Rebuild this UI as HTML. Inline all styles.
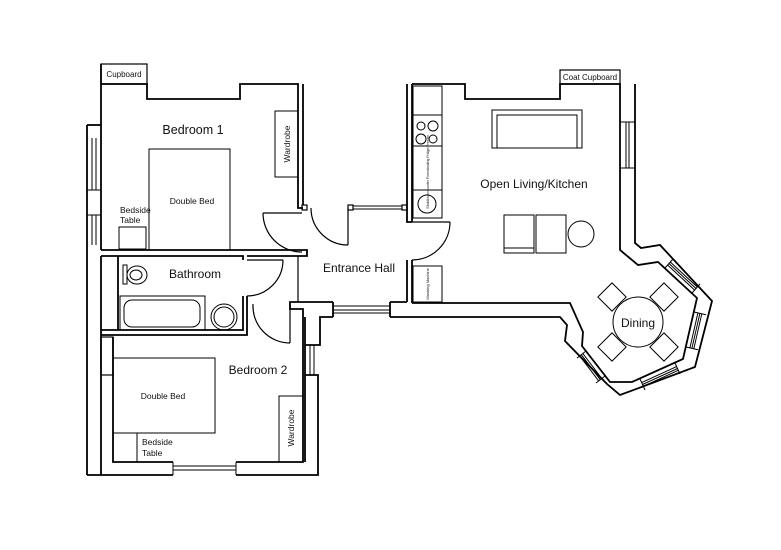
<!DOCTYPE html>
<html><head><meta charset="utf-8"><style>
html,body{margin:0;padding:0;background:#fff}
svg{display:block}
text{font-family:"Liberation Sans",sans-serif;fill:#111}
</style></head><body>
<svg width="781" height="550" viewBox="0 0 781 550" xmlns="http://www.w3.org/2000/svg">
<g fill="none" stroke="#000" stroke-width="1.8" stroke-linejoin="miter">
<!-- Bedroom 1 -->
<rect x="101" y="64" width="46" height="20" stroke-width="1.2"/>
<polyline points="101,84 147,84 147,99 240,99 240,84 298,84 298,208 303,208"/>
<polyline points="303,84 303,205"/>
<rect x="302" y="205" width="5" height="5" stroke-width="1.2"/>
<polyline points="87,125 101,125"/>
<line x1="87" y1="125" x2="87" y2="475"/>
<line x1="101" y1="64" x2="101" y2="250"/>
<g stroke-width="1"><line x1="92" y1="138" x2="92" y2="190"/><line x1="96" y1="138" x2="96" y2="190"/>
<line x1="92" y1="215" x2="92" y2="245"/><line x1="96" y1="215" x2="96" y2="245"/>
<rect x="87" y="190" width="14" height="25"/></g>
<polyline points="101,250 307,250 307,256 247,256"/>
<polyline points="101,256 243,256 243,260"/>
<!-- bathroom -->
<line x1="118" y1="256" x2="118" y2="330"/>
<polyline points="243,296 243,330 101,330"/>
<polyline points="247,296 247,335 101,335"/>
<line x1="101" y1="256" x2="101" y2="475"/>
<rect x="101" y="337" width="12" height="38" stroke-width="1.2"/>
<!-- bedroom 2 -->
<polyline points="113,337 113,462 173,462"/>
<polyline points="236,462 303,462 303,309 290,309 290,302 333,302"/>
<line x1="305" y1="317" x2="305" y2="462"/>
<polyline points="87,475 173,475"/>
<polyline points="236,475 318,475 318,375 305,375"/>
<polyline points="305,345 320,345 320,317 333,317"/>
<g stroke-width="1"><line x1="173" y1="466" x2="236" y2="466"/><line x1="173" y1="470" x2="236" y2="470"/>
<line x1="173" y1="462" x2="173" y2="475"/><line x1="236" y1="462" x2="236" y2="475"/>
<line x1="310" y1="345" x2="310" y2="375"/><line x1="314" y1="345" x2="314" y2="375"/></g>
<!-- hall -->
<line x1="298" y1="256" x2="298" y2="302" stroke-width="1.2"/>
<rect x="348" y="205" width="5" height="5" stroke-width="1.2"/>
<rect x="402" y="205" width="5" height="5" stroke-width="1.2"/>
<g stroke-width="1"><line x1="353" y1="206" x2="402" y2="206"/><line x1="353" y1="209" x2="402" y2="209"/>
<line x1="333" y1="306" x2="390" y2="306"/><line x1="333" y1="310" x2="390" y2="310"/><line x1="333" y1="313" x2="390" y2="313"/></g>
<polyline points="333,302 333,317"/><polyline points="390,302 390,317"/>
<line x1="390" y1="302" x2="407" y2="302"/>
<!-- kitchen left wall -->
<polyline points="407,84 407,222 412,222"/>
<polyline points="412,84 412,222"/>
<polyline points="407,260 407,302"/><polyline points="412,260 412,303"/>
<!-- kitchen outline -->
<polyline points="412,84 465,84 465,99 560,99 560,84 620,84 620,250 638,265 658,262 697,298 683,359 632,382 610,382 582,346 583,332 570,303 412,303"/>
<rect x="560" y="70" width="60" height="14" stroke-width="1.2"/>
<polyline points="635,84 635,243 641,248 660,245 712,301 695,367 620,395 607,384 565,341 567,325 560,317 390,317"/>
<g stroke-width="1"><line x1="626" y1="122" x2="626" y2="168"/><line x1="629" y1="122" x2="629" y2="168"/>
<line x1="620" y1="122" x2="635" y2="122"/><line x1="620" y1="168" x2="635" y2="168"/>
<!-- NE window -->
<line x1="667.7" y1="265.1" x2="694.7" y2="290.1"/><line x1="669.1" y1="263.6" x2="696.1" y2="288.6"/><line x1="670.4" y1="262.1" x2="697.4" y2="287.1"/>
<line x1="665" y1="268" x2="673" y2="259"/><line x1="692" y1="293" x2="700" y2="284"/>
<!-- E window -->
<line x1="697.9" y1="312.9" x2="689.9" y2="347.9"/><line x1="699.9" y1="313.3" x2="691.9" y2="348.3"/><line x1="701.8" y1="313.8" x2="693.8" y2="348.8"/>
<line x1="694" y1="312" x2="706" y2="314.7"/><line x1="686" y1="347" x2="698" y2="349.7"/>
<!-- S window -->
<line x1="676.6" y1="366.6" x2="641.6" y2="382.6"/><line x1="677.5" y1="368.5" x2="642.5" y2="384.5"/><line x1="678.3" y1="370.3" x2="643.3" y2="386.3"/>
<line x1="675" y1="363" x2="680" y2="374"/><line x1="640" y1="379" x2="645" y2="390"/>
<!-- SW window -->
<line x1="601.8" y1="378.5" x2="582.8" y2="353.5"/><line x1="600.3" y1="379.7" x2="581.3" y2="354.7"/><line x1="598.7" y1="380.9" x2="579.7" y2="355.9"/>
<line x1="605" y1="376" x2="596" y2="383"/><line x1="586" y1="351" x2="577" y2="358"/>
</g>
</g>
<!-- doors -->
<g fill="none" stroke="#000" stroke-width="1.2">
<line x1="263" y1="213" x2="302" y2="213"/><path d="M263,213 A39,39 0 0 0 302,252"/>
<line x1="348" y1="208" x2="348" y2="245"/><path d="M311,208 A37,37 0 0 0 348,245"/>
<line x1="247" y1="260" x2="283" y2="260"/><path d="M283,260 A36,36 0 0 1 247,296"/>
<line x1="290" y1="304" x2="290" y2="343"/><path d="M253,304 A37,37 0 0 0 290,343"/>
<line x1="412" y1="222" x2="450" y2="222"/><path d="M450,222 A38,38 0 0 1 412,260"/>
</g>
<!-- furniture -->
<g fill="none" stroke="#000" stroke-width="1">
<rect x="149" y="149" width="81" height="101"/>
<rect x="119" y="227" width="27" height="22"/>
<rect x="275" y="111" width="23" height="66"/>
<rect x="123" y="265" width="4" height="19"/><ellipse cx="137" cy="275" rx="10" ry="9"/><ellipse cx="136" cy="275" rx="6" ry="5"/>
<rect x="120" y="296" width="85" height="34"/><rect x="124" y="300" width="76" height="27" rx="8"/>
<circle cx="224" cy="317" r="13"/><circle cx="224" cy="317" r="10"/>
<rect x="113" y="358" width="102" height="75"/>
<rect x="113" y="433" width="24" height="29"/>
<rect x="279" y="396" width="24" height="66"/>
<rect x="413" y="86" width="29" height="132"/>
<line x1="413" y1="115" x2="442" y2="115"/><line x1="413" y1="146" x2="442" y2="146"/><line x1="413" y1="190" x2="442" y2="190"/>
<circle cx="421" cy="126" r="4"/><circle cx="433" cy="126" r="5"/><circle cx="421" cy="139" r="5"/><circle cx="433" cy="139" r="4"/>
<circle cx="427" cy="204" r="9"/>
<rect x="413" y="266" width="29" height="36"/>
<rect x="492" y="110" width="90" height="38"/><polyline points="497,148 497,115 577,115 577,148"/>
<rect x="504" y="215" width="30" height="38"/><line x1="504" y1="248" x2="534" y2="248"/>
<rect x="536" y="215" width="30" height="38"/>
<circle cx="581" cy="234" r="13"/>
<g transform="translate(612,297) rotate(45)"><rect x="-10" y="-10" width="20" height="20"/></g>
<g transform="translate(664,297) rotate(45)"><rect x="-10" y="-10" width="20" height="20"/></g>
<g transform="translate(612,347) rotate(45)"><rect x="-10" y="-10" width="20" height="20"/></g>
<g transform="translate(664,347) rotate(45)"><rect x="-10" y="-10" width="20" height="20"/></g>
</g>
<circle cx="638" cy="322" r="25" fill="#fff" stroke="#000" stroke-width="1"/>
<!-- labels -->
<text x="193" y="134" font-size="12.5" text-anchor="middle">Bedroom 1</text>
<text x="192" y="204" font-size="8.5" text-anchor="middle">Double Bed</text>
<text x="120" y="213" font-size="8.5">Bedside</text><text x="120" y="223" font-size="8.5">Table</text>
<text transform="translate(290,144) rotate(-90)" font-size="8.5" text-anchor="middle">Wardrobe</text>
<text x="195" y="278" font-size="12" text-anchor="middle">Bathroom</text>
<text x="359" y="272" font-size="12" text-anchor="middle">Entrance Hall</text>
<text x="534" y="188" font-size="12" text-anchor="middle">Open Living/Kitchen</text>
<text x="638" y="327" font-size="12" text-anchor="middle">Dining</text>
<text x="258" y="374" font-size="12" text-anchor="middle">Bedroom 2</text>
<text x="163" y="399" font-size="8.5" text-anchor="middle">Double Bed</text>
<text x="142" y="445" font-size="8.5">Bedside</text><text x="142" y="456" font-size="8.5">Table</text>
<text transform="translate(294,428) rotate(-90)" font-size="8.5" text-anchor="middle">Wardrobe</text>
<text x="124" y="77" font-size="8" text-anchor="middle">Cupboard</text>
<text x="590" y="80" font-size="8" text-anchor="middle">Coat Cupboard</text>
<text transform="translate(429,168) rotate(-90)" font-size="3.5" text-anchor="middle">Undercounter Freestanding Fridge/Freezer</text>
<text transform="translate(429,205) rotate(-90)" font-size="4" text-anchor="middle">Sink</text>
<text transform="translate(429,284) rotate(-90)" font-size="4" text-anchor="middle">Washing Machine</text>
</svg>
</body></html>
